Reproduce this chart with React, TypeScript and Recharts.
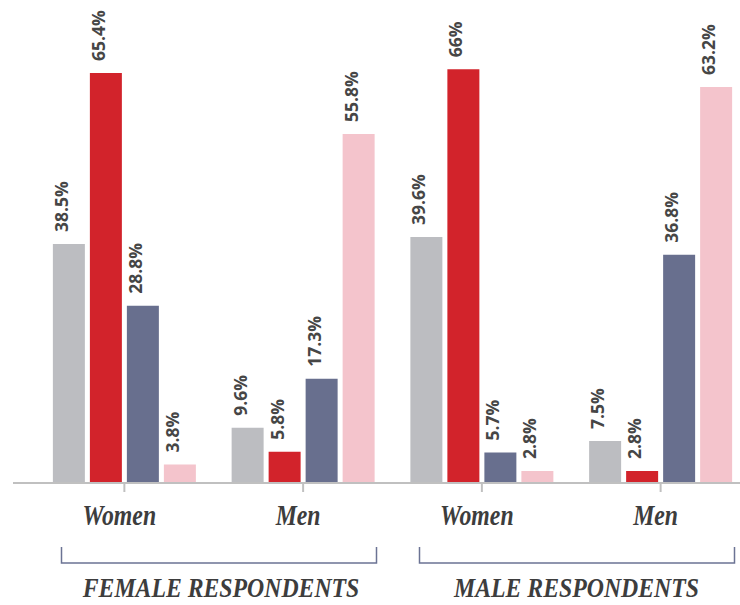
import React from 'react';
import { BarChart, Bar, XAxis, YAxis, LabelList } from 'recharts';

const categories = ['Women', 'Men', 'Women', 'Men'];
const grayValues = [38.5, 9.6, 39.6, 7.5];
const redValues = [65.4, 5.8, 66, 2.8];
const slateValues = [28.8, 17.3, 5.7, 36.8];
const pinkValues = [3.8, 55.8, 2.8, 63.2];
const groupTitles = ['FEMALE RESPONDENTS', 'MALE RESPONDENTS'];

const data = categories.map((name, i) => ({
  name,
  gray: grayValues[i],
  red: redValues[i],
  slate: slateValues[i],
  pink: pinkValues[i],
}));

const series = [
  { key: 'gray', color: '#bcbdc1' },
  { key: 'red', color: '#d2232b' },
  { key: 'slate', color: '#686f8e' },
  { key: 'pink', color: '#f4c4cc' },
];

const serif = '"Liberation Serif", "Times New Roman", serif';

const ValueLabel = (props: any) => {
  const { x, y, width, value } = props;
  const cx = x + width / 2 - 1;
  const ty = y - 12;
  return (
    <text
      x={cx}
      y={ty}
      transform={`rotate(-90, ${cx}, ${ty})`}
      textAnchor="start"
      fontFamily='"Open Sans", sans-serif'
      fontWeight={700}
      fontSize={17.5}
      fill="#464646"
    >
      {`${value}%`}
    </text>
  );
};

const CategoryTick = (props: any) => {
  const { x, payload } = props;
  return (
    <text
      transform={`translate(${x - 5}, 525) scale(0.82, 1)`}
      textAnchor="middle"
      fontFamily={serif}
      fontWeight={700}
      fontStyle="italic"
      fontSize={29}
      fill="#3d3d3d"
    >
      {payload.value}
    </text>
  );
};

const brackets = [
  { x1: 61.5, x2: 376.5, cx: 221 },
  { x1: 419.5, x2: 734.5, cx: 576.5 },
];

export default function App() {
  return (
    <div
      style={{
        position: 'fixed',
        left: 0,
        top: 0,
        width: 740,
        height: 605,
        overflow: 'hidden',
        background: '#fff',
      }}
    >
      <BarChart
        width={760}
        height={605}
        data={data}
        margin={{ top: 11, right: 10, left: 13, bottom: 82 }}
        barCategoryGap="10%"
        barGap={5}
      >
        <XAxis
          dataKey="name"
          height={40}
          padding={{ left: 22, right: 0 }}
          axisLine={{ stroke: '#c0c0c0', strokeWidth: 2 }}
          tickLine={{ stroke: '#c0c0c0', strokeWidth: 2 }}
          tickSize={9}
          tick={<CategoryTick />}
          interval={0}
        />
        <YAxis hide domain={[0.9, 75.15]} />
        {series.map((s) => (
          <Bar key={s.key} dataKey={s.key} fill={s.color} isAnimationActive={false}>
            <LabelList dataKey={s.key} content={<ValueLabel />} />
          </Bar>
        ))}
      </BarChart>
      <svg
        width={740}
        height={605}
        style={{ position: 'absolute', left: 0, top: 0, pointerEvents: 'none' }}
      >
        {brackets.map((b, i) => (
          <g key={i}>
            <path
              d={`M${b.x1},547 V563 H${b.x2} V547`}
              fill="none"
              stroke="#6b7394"
              strokeWidth={1.5}
            />
            <text
              transform={`translate(${b.cx}, 597) scale(0.88, 1)`}
              textAnchor="middle"
              fontFamily={serif}
              fontWeight={700}
              fontStyle="italic"
              fontSize={27}
              fill="#3d3d3d"
            >
              {groupTitles[i]}
            </text>
          </g>
        ))}
      </svg>
    </div>
  );
}
